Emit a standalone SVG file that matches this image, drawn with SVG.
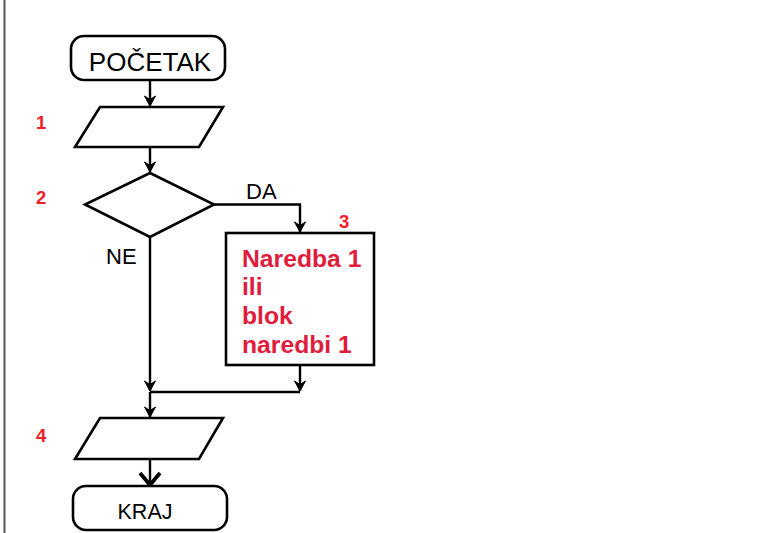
<svg xmlns="http://www.w3.org/2000/svg" width="771" height="533" viewBox="0 0 771 533">
<style>
.shape{fill:#fff;stroke:#000;stroke-width:2.6}
.conn{fill:none;stroke:#000;stroke-width:2.4}
.t{font-family:"Liberation Sans",Arial,sans-serif;fill:#000}
.num{font-family:"Liberation Sans",Arial,sans-serif;font-weight:bold;font-size:18.5px;fill:#f0202a}
.red{font-family:"Liberation Sans",Arial,sans-serif;font-weight:bold;font-size:24.7px;fill:#e01c3c}
</style>
<defs>
<marker id="ah" markerUnits="userSpaceOnUse" viewBox="-11 -7 12 14" refX="0" refY="0" markerWidth="12" markerHeight="14" orient="auto">
<path d="M0,0 L-10,-5.5 L-6.5,0 L-10,5.5 Z" fill="#000" stroke="#000" stroke-width="1"/>
</marker>
<marker id="ahBig" markerUnits="userSpaceOnUse" viewBox="-15 -13 17 26" refX="0" refY="0" markerWidth="17" markerHeight="26" orient="auto">
<path d="M-12,-10 L0,0 L-12,10" fill="none" stroke="#000" stroke-width="3.8"/>
</marker>
</defs>
<rect x="0" y="0" width="771" height="533" fill="#fff"/>
<line x1="4.5" y1="0" x2="4.5" y2="533" stroke="#555" stroke-width="2"/>

<g id="connectors">
<line class="conn" x1="150" y1="80" x2="150" y2="106" marker-end="url(#ah)"/>
<line class="conn" x1="150" y1="147" x2="150" y2="172" marker-end="url(#ah)"/>
<polyline class="conn" points="214,204.5 300,204.5 300,232" marker-end="url(#ah)"/>
<line class="conn" x1="150" y1="237" x2="150" y2="391" marker-end="url(#ah)"/>
<line class="conn" x1="300" y1="365" x2="300" y2="391" marker-end="url(#ah)"/>
<line class="conn" x1="150" y1="392" x2="300" y2="392"/>
<line class="conn" x1="150" y1="392" x2="150" y2="417" marker-end="url(#ah)"/>
<line class="conn" x1="150" y1="459" x2="150" y2="485" stroke-width="3.2" marker-end="url(#ahBig)"/>
<text class="t" x="246" y="199" font-size="22">DA</text>
<text class="t" x="106" y="264" font-size="22">NE</text>
</g>

<g id="start">
<rect class="shape" x="71" y="36" width="154" height="44" rx="13"/>
<text class="t" x="150" y="70.5" font-size="26" text-anchor="middle">POČETAK</text>
</g>

<g id="input1">
<polygon class="shape" points="100,107 223,107 199,147 75,147"/>
<text class="num" x="36" y="128.5">1</text>
</g>

<g id="decision">
<polygon class="shape" points="150,173 214,204.5 150,237 85,204.5"/>
<text class="num" x="36" y="203.5">2</text>
</g>

<g id="process">
<rect class="shape" x="226" y="233" width="148" height="132"/>
<text class="num" x="339" y="228">3</text>
<text class="red" x="242" y="267">Naredba 1</text>
<text class="red" x="242" y="295">ili</text>
<text class="red" x="242" y="323.5">blok</text>
<text class="red" x="242" y="352.5">naredbi 1</text>
</g>

<g id="output4">
<polygon class="shape" points="100,418 223,418 199,459 75,459"/>
<text class="num" x="36" y="441.5">4</text>
</g>

<g id="end">
<rect class="shape" x="73" y="486" width="154" height="44" rx="13"/>
<text class="t" x="145" y="518.5" font-size="21.5" text-anchor="middle">KRAJ</text>
</g>
</svg>
